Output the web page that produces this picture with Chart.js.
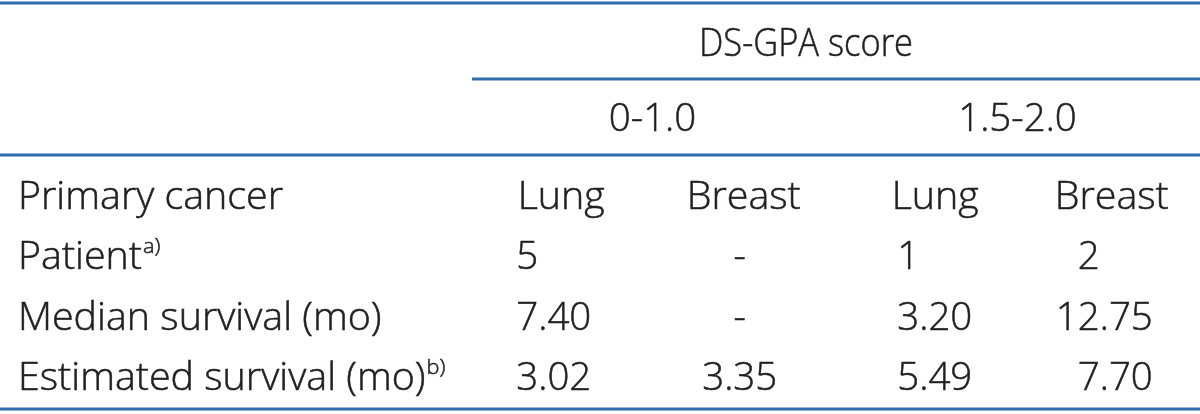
<!DOCTYPE html>
<html><head><meta charset="utf-8">
<script src="https://cdn.jsdelivr.net/npm/chart.js@4/dist/chart.umd.min.js"></script>
<style>html,body{margin:0;padding:0;background:#fff}canvas{display:block}</style>
</head><body><canvas id="c" width="1200" height="414"></canvas>
<script>
// ---- data ----
const scoreTitle = 'DS-GPA score';
const scoreGroups = ['0-1.0', '1.5-2.0'];
const groupOfColumn = [0, 0, 1, 1];
const primaryCancer = ['Lung', 'Breast', 'Lung', 'Breast'];
const rowLabels = ['Primary cancer', 'Patient', 'Median survival (mo)', 'Estimated survival (mo)'];
const rowNotes = ['', 'a)', '', 'b)'];
const patients = [5, null, 1, 2];
const medianSurvival = [7.40, null, 3.20, 12.75];
const estimatedSurvival = [3.02, 3.35, 5.49, 7.70];
const rowDecimals = [0, 2, 2];

// ---- style / layout ----
const FONT_FAMILY = '"Open Sans", "Noto Sans", "DejaVu Sans", sans-serif';
const FONT_WEIGHT = '300';
const FONT_SIZE = 38;
const NOTE_SIZE = 21;
const TEXT_COLOR = '#231f20';
const TEXT_STROKE = 0.5;
const RULE_COLOR = '#2e6eab';
const RULE_WIDTH = 3;
const TARGET_LABEL_WIDTH = 265;   // width of "Primary cancer" in the reference
const TARGET_TITLE_WIDTH = 214;   // width of "DS-GPA score" in the reference
const TARGET_NUM_WIDTH = 97;      // width of "12.75" in the reference
const LABEL_X = 18;
const TITLE_X = 806, TITLE_Y = 42;
const GROUP_Y = 117;
const RULE_Y = [3, 79, 155, 409];
const GROUP_RULE_X = 472;
const headOff = [0, 0, 9, 3];
const colAlign = [
  {mode: 'decimal', off: -23},
  {mode: 'center', off: -4},
  {mode: 'decimal', off: -7},
  {mode: 'decimal', off: -9}
];

const valueRows = [patients, medianSurvival, estimatedSurvival];
const points = [];
primaryCancer.forEach((t, c) => points.push({x: c, y: 0, text: t, head: true}));
valueRows.forEach((row, r) => row.forEach((v, c) => {
  points.push({x: c, y: r + 1, text: v === null ? '-' : v.toFixed(rowDecimals[r]), head: false});
}));

let sxText = 1, numScale = 1;
const isNum = t => /^[0-9.\-]+$/.test(t);
function setFont(ctx, size) { ctx.font = FONT_WEIGHT + ' ' + size + 'px ' + FONT_FAMILY; }
function capH(size) { return size * 0.714; }
function sxFor(text, override) { return override || (isNum(text) ? numScale : sxText); }
function drawText(ctx, text, x, baseline, override) {
  const s = sxFor(text, override);
  ctx.save(); ctx.translate(x, baseline); ctx.scale(s, 1);
  ctx.textAlign = 'left'; ctx.textBaseline = 'alphabetic';
  ctx.fillText(text, 0, 0);
  ctx.strokeStyle = TEXT_COLOR; ctx.lineWidth = TEXT_STROKE;
  ctx.strokeText(text, 0, 0);
  ctx.restore();
}
function w(ctx, text, override) { return ctx.measureText(text).width * sxFor(text, override); }

const tablePlugin = {
  id: 'tablePlugin',
  afterDatasetsDraw(chart) {
    const ctx = chart.ctx;
    const xs = chart.scales.x, ys = chart.scales.y;
    ctx.save();
    setFont(ctx, FONT_SIZE);
    sxText = TARGET_LABEL_WIDTH / ctx.measureText(rowLabels[0]).width;
    numScale = TARGET_NUM_WIDTH / ctx.measureText('12.75').width;
    const sxTitle = TARGET_TITLE_WIDTH / ctx.measureText(scoreTitle).width;
    ctx.fillStyle = TEXT_COLOR;
    const half = capH(FONT_SIZE) / 2;

    // rules
    ctx.strokeStyle = RULE_COLOR; ctx.lineWidth = RULE_WIDTH;
    const rule = (x0, x1, y) => { ctx.beginPath(); ctx.moveTo(x0, y); ctx.lineTo(x1, y); ctx.stroke(); };
    rule(0, chart.width, RULE_Y[0]);
    rule(GROUP_RULE_X, chart.width, RULE_Y[1]);
    rule(0, chart.width, RULE_Y[2]);
    rule(0, chart.width, RULE_Y[3]);

    // title
    drawText(ctx, scoreTitle, TITLE_X - w(ctx, scoreTitle, sxTitle) / 2, TITLE_Y + half, sxTitle);
    // score groups
    scoreGroups.forEach((g, gi) => {
      const cols = groupOfColumn.map((v, i) => v === gi ? i : -1).filter(i => i >= 0);
      const cx = (xs.getPixelForValue(cols[0]) + xs.getPixelForValue(cols[cols.length - 1])) / 2;
      drawText(ctx, g, cx - w(ctx, g) / 2, GROUP_Y + half);
    });
    // row labels
    rowLabels.forEach((lab, r) => {
      const by = ys.getPixelForValue(r) + half;
      setFont(ctx, FONT_SIZE);
      drawText(ctx, lab, LABEL_X, by);
      if (rowNotes[r]) {
        const lw = w(ctx, lab);
        setFont(ctx, NOTE_SIZE);
        drawText(ctx, rowNotes[r], LABEL_X + lw + 1, by - FONT_SIZE * 0.43, sxText);
      }
    });
    setFont(ctx, FONT_SIZE);
    // cells
    const meta = chart.getDatasetMeta(0);
    meta.data.forEach((el, i) => {
      const p = points[i];
      const by = el.y + half;
      const a = colAlign[p.x];
      let x;
      if (p.head) {
        x = el.x + headOff[p.x] - w(ctx, p.text) / 2;
      } else if (a.mode === 'center') {
        x = el.x + a.off - w(ctx, p.text) / 2;
      } else {
        const intPart = p.text.split('.')[0];
        x = el.x + a.off - w(ctx, intPart);
      }
      drawText(ctx, p.text, x, by);
    });
    ctx.restore();
  }
};

new Chart(document.getElementById('c'), {
  type: 'scatter',
  data: { datasets: [{ data: points, pointRadius: 0, pointHoverRadius: 0 }] },
  options: {
    responsive: false, animation: false, events: [],
    layout: { padding: { left: 470, right: 0, top: 165, bottom: 7 } },
    plugins: { legend: { display: false }, tooltip: { enabled: false } },
    scales: {
      x: { type: 'linear', min: -0.5, max: 3.5, display: false },
      y: { type: 'linear', min: -0.5, max: 3.5, reverse: true, display: false }
    }
  },
  plugins: [tablePlugin]
});
</script>
</body></html>
